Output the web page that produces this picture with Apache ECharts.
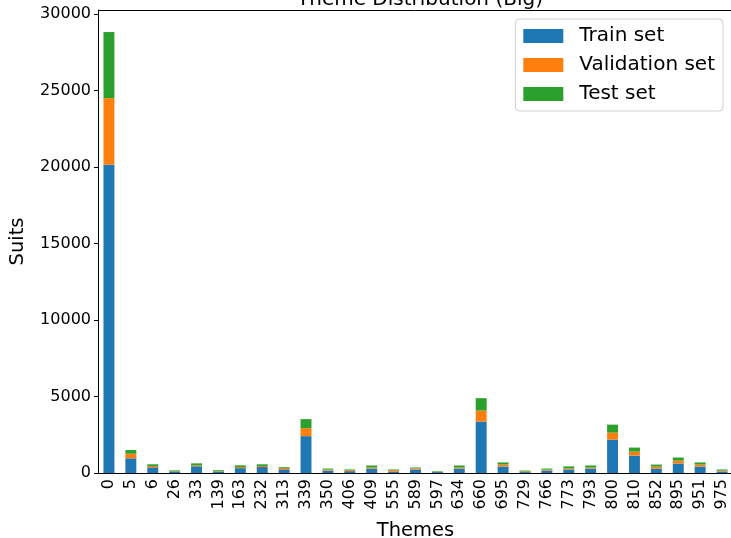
<!DOCTYPE html>
<html>
<head>
<meta charset="utf-8">
<script src="https://cdn.jsdelivr.net/npm/echarts@6/dist/echarts.min.js"></script>
<style>
  html, body { margin: 0; padding: 0; background: #fff; }
  #chart { width: 731px; height: 538px; }
</style>
</head>
<body>
<div id="chart"></div>
<script>
// Theme ids on the x axis
const themes = ['0', '5', '6', '26', '33', '139', '163', '232', '313', '339', '350', '406', '409', '555',
  '589', '597', '634', '660', '695', '729', '766', '773', '793', '800', '810', '852', '895', '951', '975'];

// Suit counts per split
const trainSet = [20150, 960, 370, 80, 440, 80, 320, 390, 240, 2410, 160, 120, 290, 100,
  230, 60, 290, 3360, 420, 60, 160, 230, 290, 2180, 1140, 290, 620, 420, 100];
const validationSet = [4350, 300, 90, 20, 60, 20, 70, 70, 100, 520, 70, 70, 70, 90,
  80, 10, 70, 720, 140, 40, 60, 70, 70, 460, 260, 130, 195, 140, 60];
const testSet = [4320, 240, 110, 70, 130, 80, 110, 110, 50, 590, 60, 40, 130, 40,
  50, 40, 130, 810, 130, 60, 70, 130, 130, 520, 260, 130, 195, 130, 70];

const yTicks = [0, 5000, 10000, 15000, 20000, 25000, 30000];

const font = 'DejaVu Sans';
const chart = echarts.init(document.getElementById('chart'));

const mkSeries = (name, data, color) => ({
  name,
  type: 'bar',
  stack: 'total',
  data,
  barWidth: '50%',
  itemStyle: { color },
  emphasis: { disabled: true },
});

chart.setOption({
  animation: false,
  textStyle: { fontFamily: font },
  title: {
    text: 'Theme Distribution (Big)',
    left: 415,
    top: -15,
    textAlign: 'center',
    textStyle: { fontFamily: font, fontSize: 20, fontWeight: 'normal', color: '#000' },
  },
  legend: {
    orient: 'vertical',
    right: 8,
    top: 19,
    icon: 'rect',
    itemWidth: 40,
    itemHeight: 14,
    itemGap: 9,
    padding: [7, 8, 7, 8],
    backgroundColor: '#fff',
    borderColor: '#d0d0d0',
    borderWidth: 1,
    borderRadius: 4,
    textStyle: { fontFamily: font, fontSize: 20, color: '#000', padding: [0, 0, 0, 11] },
    data: ['Train set', 'Validation set', 'Test set'],
  },
  grid: { left: 98, top: 10, width: 635, height: 463, outerBoundsMode: 'none' },
  xAxis: {
    type: 'category',
    data: themes,
    name: 'Themes',
    nameLocation: 'middle',
    nameGap: 48,
    nameTextStyle: { fontFamily: font, fontSize: 19.5, color: '#000' },
    axisLine: { lineStyle: { color: '#000', width: 1 } },
    axisTick: { alignWithLabel: true, length: 4, lineStyle: { color: '#000' } },
    axisLabel: { rotate: 90, fontFamily: font, fontSize: 16, color: '#000', margin: 6, interval: 0 },
  },
  yAxis: {
    type: 'value',
    min: 0,
    max: 30260,
    interval: 5000,
    name: 'Suits',
    nameLocation: 'middle',
    nameGap: 70,
    nameTextStyle: { fontFamily: font, fontSize: 19.5, color: '#000' },
    axisLine: { show: true, lineStyle: { color: '#000', width: 1 } },
    axisTick: { show: true, length: 4, lineStyle: { color: '#000' } },
    axisLabel: {
      fontFamily: font, fontSize: 16, color: '#000', margin: 7, showMaxLabel: false,
      formatter: (v) => (yTicks.includes(v) ? String(v) : ''),
    },
    splitLine: { show: false },
  },
  graphic: [{
    type: 'line',
    shape: { x1: 98, y1: 10.5, x2: 731, y2: 10.5 },
    style: { stroke: '#000', lineWidth: 1 },
  }],
  series: [
    mkSeries('Train set', trainSet, '#1f77b4'),
    mkSeries('Validation set', validationSet, '#ff7f0e'),
    mkSeries('Test set', testSet, '#2ca02c'),
  ],
});
</script>
</body>
</html>
